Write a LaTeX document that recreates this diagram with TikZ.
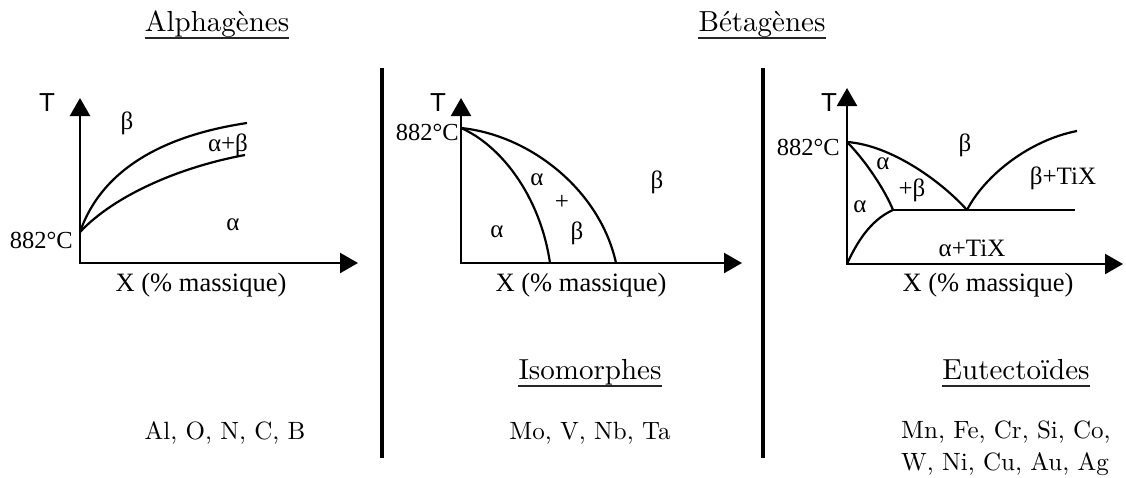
\documentclass[tikz,border=0pt]{standalone}
\usepackage{fontspec}
\setmainfont{lmroman10-regular.otf}
\newfontfamily\tms{Liberation Serif}
\newfontfamily\ars{Liberation Sans}
\usetikzlibrary{arrows.meta}
\begin{document}
\begin{tikzpicture}[x=1pt,y=-1pt,
  ax/.style={line width=2.4pt,{Triangle[length=18pt,width=20pt]}-{Triangle[length=18pt,width=20pt]}},
  crv/.style={line width=2.2pt},
  sep/.style={line width=3.5pt},
  ttl/.style={inner sep=0pt,anchor=base,font=\fontsize{29}{34}\selectfont},
  uline/.style={line width=2.4pt,draw=black!85},
  lbl/.style={inner sep=0pt,font=\tms\fontsize{25}{30}\selectfont},
  xlab/.style={inner sep=0pt,anchor=base,font=\tms\fontsize{26.5}{30}\selectfont},
  deg/.style={inner sep=0pt,anchor=base east,font=\tms\fontsize{24.5}{30}\selectfont},
  tlab/.style={inner sep=0pt,font=\ars\fontsize{26}{30}\selectfont},
  elem/.style={inner sep=0pt,anchor=base,font=\fontsize{25}{32}\selectfont},
]
\useasboundingbox (0,0) rectangle (1126,477);

% headings
\node[ttl] (hA) at (217,31) {Alphagènes};
\node[ttl] (hB) at (762,31) {Bétagènes};
\node[ttl] (hI) at (590,379) {Isomorphes};
\node[ttl] (hE) at (1016,379) {Eutectoïdes};
\foreach \h in {hA,hB,hI,hE}{
  \draw[uline] ([yshift=-7pt]\h.base west) -- ([yshift=-7pt]\h.base east);
}

% separators
\coordinate (s1t) at (382,68); \coordinate (s1b) at (382,458);
\coordinate (s2t) at (763,68); \coordinate (s2b) at (763,458);
\draw[sep] (s1t) -- (s1b);
\draw[sep] (s2t) -- (s2b);

% ---------- panel 1 ----------
\coordinate (y1) at (80,98); \coordinate (o1) at (80,263); \coordinate (x1) at (358,263);
\draw[ax] (y1) -- (o1) -- (x1);
\coordinate (a1) at (80,232);
\coordinate (u1) at (247,123);
\coordinate (l1) at (245,155);
\draw[crv] (a1) .. controls (105,160) and (180,133) .. (u1);
\draw[crv] (a1) .. controls (115,195) and (180,167) .. (l1);
\node[tlab] (T1) at (47,103) {T};
\node[deg] (d1) at (73,248) {882°C};
\node[xlab] (X1) at (201,291) {X (\% massique)};
\node[lbl] (b1) at (127,123) {β};
\node[lbl] (ab1) at (228,145) {α+β};
\node[lbl] (al1) at (233,225) {α};

% ---------- panel 2 ----------
\coordinate (y2) at (461,98); \coordinate (o2) at (461,263); \coordinate (x2) at (742,263);
\draw[ax] (y2) -- (o2) -- (x2);
\coordinate (a2) at (461,128);
\coordinate (i2) at (550,263);
\coordinate (e2) at (616,263);
\draw[crv] (a2) .. controls (500,145) and (540,195) .. (i2);
\draw[crv] (a2) .. controls (530,135) and (600,190) .. (e2);
\node[tlab] (T2) at (438,103) {T};
\node[deg] (d2) at (459,140) {882°C};
\node[xlab] (X2) at (581,291) {X (\% massique)};
\node[lbl] (al2) at (537,180) {α};
\node[lbl] (pl2) at (562,202) {+};
\node[lbl] (bb2) at (577,233) {β};
\node[lbl] (al2b) at (497,232) {α};
\node[lbl] (b2) at (657,182) {β};

% ---------- panel 3 ----------
\coordinate (y3) at (847,88); \coordinate (o3) at (847,264); \coordinate (x3) at (1123,264);
\draw[ax] (y3) -- (o3) -- (x3);
\coordinate (a3) at (847,142);
\coordinate (eu3) at (967,210);
\coordinate (p3) at (893,210);
\coordinate (h3) at (1075,210);
\coordinate (r3) at (1077,131);
\draw[crv] (a3) .. controls (890,145) and (940,180) .. (eu3);
\draw[crv] (a3) .. controls (865,160) and (885,190) .. (p3);
\draw[crv] (p3) -- (h3);
\draw[crv] (o3) .. controls (860,235) and (875,218) .. (p3);
\draw[crv] (eu3) .. controls (985,175) and (1030,140) .. (r3);
\node[tlab] (T3) at (829,103) {T};
\node[deg] (d3) at (840,155) {882°C};
\node[xlab] (X3) at (988,291) {X (\% massique)};
\node[lbl] (b3) at (965,145) {β};
\node[lbl] (al3) at (883,164) {α};
\node[lbl] (pb3) at (912,190) {+β};
\node[lbl] (al3b) at (860,207) {α};
\node[lbl] (bt3) at (1063,178) {β+TiX};
\node[lbl] (at3) at (972,248) {α+TiX};

% elements
\node[elem] (e1) at (225,439) {Al, O, N, C, B};
\node[elem] (e2n) at (590,439) {Mo, V, Nb, Ta};
\node[elem,anchor=base west] (e3a) at (901,438) {Mn, Fe, Cr, Si, Co,};
\node[elem,anchor=base west] (e3b) at (901,470) {W, Ni, Cu, Au, Ag};
\end{tikzpicture}
\end{document}
